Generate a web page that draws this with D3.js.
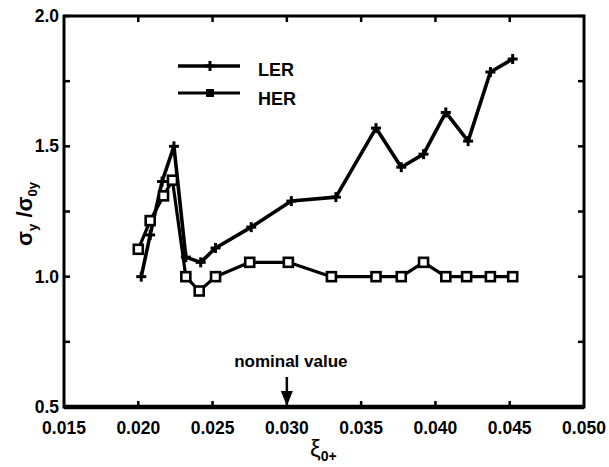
<!DOCTYPE html>
<html lang="en">
<head>
<meta charset="UTF-8">
<title>sigma ratio vs xi</title>
<script src="https://cdnjs.cloudflare.com/ajax/libs/d3/7.8.5/d3.min.js"></script>
<style>
  * { margin: 0; padding: 0; }
  body { background: #fff; }
  svg { display: block; font-family: "Liberation Sans", Arial, sans-serif; }
  .lbl { fill: #000; font-weight: bold; }
</style>
</head>
<body>
<div id="chart"></div>
<script>
  // values
  const lerX = [0.0202, 0.0208, 0.0216, 0.0224, 0.0232, 0.0242, 0.0252, 0.0276, 0.0303,
                0.0333, 0.0360, 0.0377, 0.0392, 0.0407, 0.0422, 0.0437, 0.0452];
  const lerY = [1.00, 1.16, 1.365, 1.50, 1.075, 1.055, 1.11, 1.19, 1.29,
                1.305, 1.57, 1.42, 1.47, 1.63, 1.52, 1.785, 1.835];
  const herX = [0.0200, 0.0208, 0.0217, 0.0223, 0.0232, 0.0241, 0.0252, 0.0275, 0.0301,
                0.0330, 0.0360, 0.0377, 0.0392, 0.0407, 0.0421, 0.0437, 0.0452];
  const herY = [1.105, 1.215, 1.31, 1.37, 1.00, 0.945, 1.00, 1.055, 1.055,
                1.00, 1.00, 1.00, 1.055, 1.00, 1.00, 1.00, 1.00];
  const xTicks = [0.015, 0.020, 0.025, 0.030, 0.035, 0.040, 0.045, 0.050];
  const yTicks = [0.5, 1.0, 1.5, 2.0];
  const yMinor = [0.75, 1.25, 1.75];
  const nominal = 0.030;

  const width = 609, height = 467;
  const pL = 64, pR = 584, pT = 16, pB = 407;

  const x = d3.scaleLinear().domain([0.015, 0.050]).range([pL, pR]);
  const y = d3.scaleLinear().domain([0.5, 2.0]).range([pB, pT]);

  const svg = d3.select("#chart").append("svg")
      .attr("width", width).attr("height", height);

  const ler = lerX.map((v, i) => [v, lerY[i]]);
  const her = herX.map((v, i) => [v, herY[i]]);
  const line = d3.line().x(d => x(d[0])).y(d => y(d[1]));

  // frame
  svg.append("rect")
      .attr("x", pL).attr("y", pT)
      .attr("width", pR - pL).attr("height", pB - pT)
      .attr("fill", "none").attr("stroke", "#000").attr("stroke-width", 3);
  svg.append("line")
      .attr("x1", pL).attr("x2", pR).attr("y1", pB).attr("y2", pB)
      .attr("stroke", "#000").attr("stroke-width", 4.5);

  // ticks (inward, on all four sides)
  const tk = svg.append("g").attr("stroke", "#000").attr("stroke-width", 2.5);
  xTicks.slice(1, -1).forEach(t => {
    tk.append("line").attr("x1", x(t)).attr("x2", x(t)).attr("y1", pB).attr("y2", pB - 6);
    tk.append("line").attr("x1", x(t)).attr("x2", x(t)).attr("y1", pT).attr("y2", pT + 6);
  });
  yTicks.concat(yMinor).forEach(t => {
    tk.append("line").attr("x1", pL).attr("x2", pL + 6).attr("y1", y(t)).attr("y2", y(t));
    tk.append("line").attr("x1", pR).attr("x2", pR - 6).attr("y1", y(t)).attr("y2", y(t));
  });

  // tick labels
  svg.append("g").selectAll("text").data(xTicks).join("text")
      .attr("class", "lbl")
      .attr("x", d => x(d)).attr("y", 434)
      .attr("text-anchor", "middle").attr("font-size", 17.5)
      .text(d => d.toFixed(3));
  svg.append("g").selectAll("text").data(yTicks).join("text")
      .attr("class", "lbl")
      .attr("x", 59).attr("y", d => y(d) + 6)
      .attr("text-anchor", "end").attr("font-size", 17.5)
      .text(d => d.toFixed(1));

  // axis titles
  const xt = svg.append("text").attr("class", "lbl")
      .attr("x", 310).attr("y", 457).attr("font-size", 24);
  xt.append("tspan").attr("font-weight", "normal").text("ξ");
  xt.append("tspan").attr("dy", 4).attr("font-size", 14).text("0+");

  const yt = svg.append("text").attr("class", "lbl")
      .attr("transform", "translate(32,246) rotate(-90)")
      .attr("font-size", 22);
  yt.append("tspan").text("σ");
  yt.append("tspan").attr("dy", 5).attr("font-size", 13).text("y");
  yt.append("tspan").attr("dy", -5).text(" /σ");
  yt.append("tspan").attr("dy", 5).attr("font-size", 13).text("0y");

  // series
  function plus(g, px, py) {
    g.append("line").attr("x1", px - 5).attr("x2", px + 5).attr("y1", py).attr("y2", py);
    g.append("line").attr("x1", px).attr("x2", px).attr("y1", py - 5).attr("y2", py + 5);
  }
  function square(g, px, py) {
    g.append("rect").attr("x", px - 4.5).attr("y", py - 4.5).attr("width", 9).attr("height", 9)
        .attr("fill", "#fff");
  }

  svg.append("path").datum(her).attr("d", line)
      .attr("fill", "none").attr("stroke", "#000").attr("stroke-width", 3.2)
      .attr("stroke-linejoin", "round");
  svg.append("path").datum(ler).attr("d", line)
      .attr("fill", "none").attr("stroke", "#000").attr("stroke-width", 3.6)
      .attr("stroke-linejoin", "round");

  const herG = svg.append("g").attr("stroke", "#000").attr("stroke-width", 2.6);
  her.forEach(d => square(herG, x(d[0]), y(d[1])));
  const lerG = svg.append("g").attr("stroke", "#000").attr("stroke-width", 3);
  ler.forEach(d => plus(lerG, x(d[0]), y(d[1])));

  // legend
  const lg = svg.append("g");
  lg.append("line").attr("x1", 178).attr("x2", 240).attr("y1", 66).attr("y2", 66)
      .attr("stroke", "#000").attr("stroke-width", 3.6);
  plus(lg.append("g").attr("stroke", "#000").attr("stroke-width", 3), 210, 66);
  lg.append("text").attr("class", "lbl").attr("x", 258).attr("y", 76)
      .attr("font-size", 18).text("LER");
  lg.append("line").attr("x1", 178).attr("x2", 240).attr("y1", 93).attr("y2", 93)
      .attr("stroke", "#000").attr("stroke-width", 3.2);
  lg.append("rect").attr("x", 206).attr("y", 89).attr("width", 8).attr("height", 8)
      .attr("fill", "#000");
  lg.append("text").attr("class", "lbl").attr("x", 258).attr("y", 105)
      .attr("font-size", 18).text("HER");

  // nominal value marker
  const nx = x(nominal);
  svg.append("text").attr("class", "lbl")
      .attr("x", nx + 4).attr("y", 367).attr("text-anchor", "middle")
      .attr("font-size", 17).text("nominal value");
  svg.append("line").attr("x1", nx).attr("x2", nx).attr("y1", 377).attr("y2", 394)
      .attr("stroke", "#000").attr("stroke-width", 2.5);
  svg.append("path")
      .attr("d", `M${nx - 6},${391} L${nx + 6},${391} L${nx},${pB - 1} Z`)
      .attr("fill", "#000");
</script>
</body>
</html>
